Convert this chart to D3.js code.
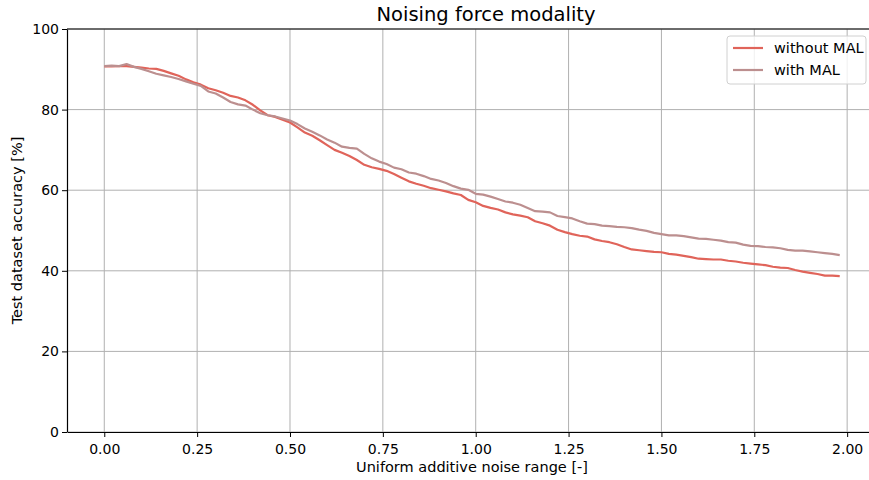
<!DOCTYPE html>
<html>
<head>
<meta charset="utf-8">
<script src="https://cdn.jsdelivr.net/npm/d3@7"></script>
<style>
    body { margin: 0; background: #fff; }
    svg text { font-family: "DejaVu Sans", sans-serif; fill: #000; }
</style>
</head>
<body>
<div id="chart"></div>
<script>
// noise range steps 0.00 .. 1.98
const noiseRange = d3.range(0, 100).map(i => +(i * 0.02).toFixed(2));

const withoutMAL = [
    90.7, 90.7, 90.8, 90.8, 90.6, 90.4, 90.2, 90.1, 89.6, 89.0,
    88.4, 87.5, 86.8, 86.2, 85.3, 84.8, 84.2, 83.4, 83.0, 82.3,
    81.2, 79.8, 78.6, 78.2, 77.5, 76.8, 75.6, 74.3, 73.5, 72.4,
    71.2, 70.0, 69.3, 68.5, 67.5, 66.3, 65.7, 65.3, 64.8, 64.0,
    63.1, 62.2, 61.6, 61.1, 60.5, 60.1, 59.7, 59.2, 58.8, 57.6,
    57.0, 56.1, 55.6, 55.2, 54.5, 54.0, 53.7, 53.3, 52.3, 51.8,
    51.2, 50.2, 49.6, 49.1, 48.7, 48.5, 47.8, 47.4, 47.1, 46.6,
    45.9, 45.3, 45.1, 44.9, 44.7, 44.6, 44.2, 44.0, 43.7, 43.4,
    43.0, 42.9, 42.8, 42.8, 42.5, 42.3, 42.0, 41.8, 41.6, 41.4,
    41.0, 40.8, 40.7, 40.2, 39.8, 39.5, 39.2, 38.8, 38.8, 38.7
];

const withMAL = [
    90.8, 90.9, 90.8, 91.3, 90.6, 90.1, 89.5, 88.9, 88.5, 88.1,
    87.6, 87.0, 86.4, 85.9, 84.5, 84.0, 83.0, 81.9, 81.3, 81.0,
    80.0, 79.1, 78.6, 78.3, 77.8, 77.3, 76.4, 75.3, 74.5, 73.6,
    72.6, 71.8, 70.8, 70.5, 70.3, 69.0, 67.9, 67.1, 66.5, 65.6,
    65.2, 64.4, 64.1, 63.5, 62.8, 62.4, 61.8, 61.0, 60.4, 60.1,
    59.1, 58.9, 58.4, 57.8, 57.2, 56.9, 56.4, 55.6, 54.8, 54.7,
    54.5, 53.6, 53.3, 53.0, 52.3, 51.7, 51.6, 51.2, 51.1, 50.9,
    50.8, 50.6, 50.2, 49.9, 49.4, 49.1, 48.8, 48.8, 48.6, 48.3,
    48.0, 47.9, 47.7, 47.5, 47.1, 47.0, 46.5, 46.2, 46.1, 45.9,
    45.8, 45.6, 45.2, 45.0, 45.0, 44.8, 44.6, 44.4, 44.2, 43.9
];

const seriesNames = ['without MAL', 'with MAL'];
const seriesColors = ['#e0645a', '#bc8f8f'];
const xTicks = [0, 0.25, 0.5, 0.75, 1.0, 1.25, 1.5, 1.75, 2.0];
const yTicks = [0, 20, 40, 60, 80, 100];

const width = 869, height = 480;
const margin = {top: 29, right: -7, bottom: 48, left: 67};
const innerW = width - margin.left - margin.right;
const innerH = height - margin.top - margin.bottom;

const svg = d3.select('#chart').append('svg')
    .attr('width', width)
    .attr('height', height);

const chart = svg.append('g')
    .attr('transform', `translate(${margin.left},${margin.top})`);

const xScale = d3.scaleLinear().domain([-0.099, 2.079]).range([0.5, innerW + 0.5]);
const yScale = d3.scaleLinear().domain([0, 100]).range([innerH, 0]);

// grid
chart.append('g').selectAll('line')
    .data(xTicks)
    .join('line')
    .attr('x1', d => xScale(d)).attr('x2', d => xScale(d))
    .attr('y1', 0).attr('y2', innerH)
    .attr('stroke', '#b0b0b0').attr('stroke-width', 1);

chart.append('g').selectAll('line')
    .data(yTicks)
    .join('line')
    .attr('x1', 0).attr('x2', innerW)
    .attr('y1', d => yScale(d)).attr('y2', d => yScale(d))
    .attr('stroke', '#b0b0b0').attr('stroke-width', 1);

// lines
const line = d3.line()
    .x((d, i) => xScale(noiseRange[i]))
    .y(d => yScale(d));

[withoutMAL, withMAL].forEach((s, k) => {
    chart.append('path')
        .datum(s)
        .attr('fill', 'none')
        .attr('stroke', seriesColors[k])
        .attr('stroke-width', 2.2)
        .attr('stroke-linejoin', 'round')
        .attr('d', line);
});

// axes
const xAxis = d3.axisBottom(xScale)
    .tickValues(xTicks)
    .tickFormat(d3.format('.2f'))
    .tickSize(5)
    .tickSizeOuter(0);

const yAxis = d3.axisLeft(yScale)
    .tickValues(yTicks)
    .tickFormat(d3.format('d'))
    .tickSize(5)
    .tickSizeOuter(0);

const xAxisGroup = chart.append('g')
    .attr('transform', `translate(0,${innerH})`)
    .call(xAxis);
const yAxisGroup = chart.append('g').call(yAxis);

[xAxisGroup, yAxisGroup].forEach(g => {
    g.select('.domain').attr('stroke', '#000').attr('stroke-width', 1.2);
    g.selectAll('.tick line').attr('stroke', '#000').attr('stroke-width', 1);
    g.selectAll('.tick text').style('font-size', '14px').attr('fill', '#000');
});
xAxisGroup.selectAll('.tick text').attr('dy', '1.0em');

// top spine
chart.append('line')
    .attr('x1', 0).attr('x2', innerW)
    .attr('y1', 0).attr('y2', 0)
    .attr('stroke', '#000').attr('stroke-width', 1.2);

// titles
svg.append('text')
    .attr('x', 486).attr('y', 21)
    .attr('text-anchor', 'middle')
    .style('font-size', '19.5px')
    .text('Noising force modality');

svg.append('text')
    .attr('x', 472).attr('y', 472)
    .attr('text-anchor', 'middle')
    .style('font-size', '14.5px')
    .text('Uniform additive noise range [-]');

svg.append('text')
    .attr('transform', `translate(22,${margin.top + innerH / 2}) rotate(-90)`)
    .attr('text-anchor', 'middle')
    .style('font-size', '14.5px')
    .text('Test dataset accuracy [%]');

// legend
const legend = svg.append('g').attr('transform', 'translate(727,36)');
legend.append('rect')
    .attr('width', 139).attr('height', 48)
    .attr('rx', 3)
    .attr('fill', 'rgba(255,255,255,0.8)')
    .attr('stroke', '#d0d0d0');

seriesNames.forEach((name, k) => {
    const yy = 12 + k * 22;
    legend.append('line')
        .attr('x1', 6).attr('x2', 36)
        .attr('y1', yy).attr('y2', yy)
        .attr('stroke', seriesColors[k]).attr('stroke-width', 2.2);
    legend.append('text')
        .attr('x', 47).attr('y', yy)
        .attr('dy', '0.35em')
        .style('font-size', '14.5px')
        .text(name);
});
</script>
</body>
</html>
